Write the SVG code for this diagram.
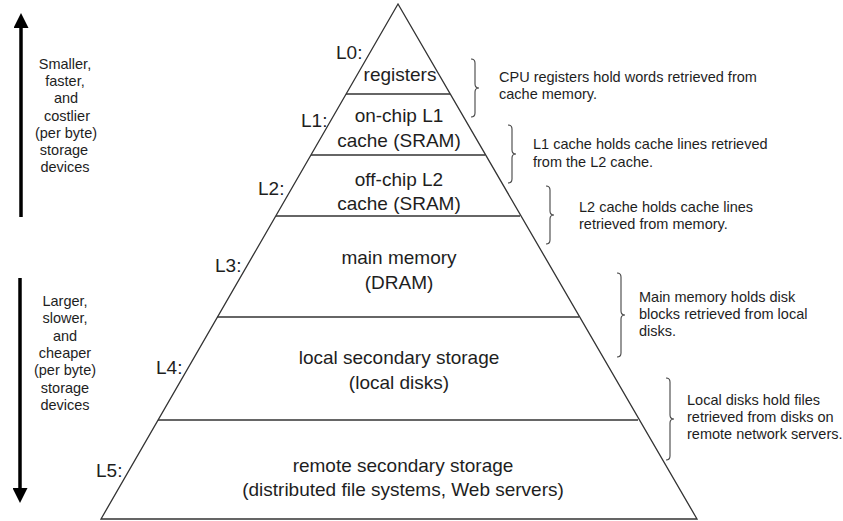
<svg xmlns="http://www.w3.org/2000/svg" width="843" height="521" viewBox="0 0 843 521">
<defs>
<style>
.lvl{font-family:"Liberation Sans",Arial,sans-serif;font-size:19px;fill:#1e1e1e;text-anchor:middle}
.lab{font-family:"Liberation Sans",Arial,sans-serif;font-size:19px;fill:#1e1e1e}
.note{font-family:"Liberation Sans",Arial,sans-serif;font-size:14.5px;fill:#1e1e1e}
.side{font-family:"Liberation Sans",Arial,sans-serif;font-size:14.5px;fill:#1e1e1e;text-anchor:middle}
.edge{fill:none;stroke:#333;stroke-width:1.3}
.brace{fill:none;stroke:#444;stroke-width:1.1}
.arrow{stroke:#000;stroke-width:3.5;fill:none}
</style>
<marker id="head" viewBox="0 0 15 15" markerWidth="15" markerHeight="15" refX="0" refY="7.5" orient="auto" markerUnits="userSpaceOnUse">
<path d="M0,0 L15,7.5 L0,15 z" fill="#000"/>
</marker>
</defs>
<rect width="843" height="521" fill="#fff"/>

<g id="pyramid">
<polygon class="edge" points="398,4 101,519 697,519"/>
</g>

<g id="L0">
<line class="edge" x1="346" y1="94" x2="450" y2="94"/>
<text class="lab" x="336" y="59">L0:</text>
<text class="lvl" x="400" y="81">registers</text>
</g>
<g id="L1">
<line class="edge" x1="311" y1="155" x2="485" y2="155"/>
<text class="lab" x="301" y="127">L1:</text>
<text class="lvl" x="399" y="122">on-chip L1</text>
<text class="lvl" x="399" y="147">cache (SRAM)</text>
</g>
<g id="L2">
<line class="edge" x1="276" y1="216" x2="520" y2="216"/>
<text class="lab" x="258" y="195">L2:</text>
<text class="lvl" x="399" y="186">off-chip L2</text>
<text class="lvl" x="399" y="210">cache (SRAM)</text>
</g>
<g id="L3">
<line class="edge" x1="217" y1="317" x2="579" y2="317"/>
<text class="lab" x="215" y="272">L3:</text>
<text class="lvl" x="399" y="264">main memory</text>
<text class="lvl" x="399" y="289">(DRAM)</text>
</g>
<g id="L4">
<line class="edge" x1="158" y1="420" x2="638" y2="420"/>
<text class="lab" x="156" y="374">L4:</text>
<text class="lvl" x="399" y="364">local secondary storage</text>
<text class="lvl" x="399" y="389">(local disks)</text>
</g>
<g id="L5">
<text class="lab" x="96" y="477">L5:</text>
<text class="lvl" x="403" y="472">remote secondary storage</text>
<text class="lvl" x="403" y="496">(distributed file systems, Web servers)</text>
</g>

<g id="note0">
<text class="note" x="499" y="82">CPU registers hold words retrieved from</text>
<text class="note" x="499" y="99">cache memory.</text>
</g>
<g id="note1">
<text class="note" x="533" y="149">L1 cache holds cache lines retrieved</text>
<text class="note" x="533" y="167">from the L2 cache.</text>
</g>
<g id="note2">
<text class="note" x="579" y="212">L2 cache holds cache lines</text>
<text class="note" x="579" y="229">retrieved from memory.</text>
</g>
<g id="note3">
<text class="note" x="639" y="302">Main memory holds disk</text>
<text class="note" x="639" y="319">blocks retrieved from local</text>
<text class="note" x="639" y="336">disks.</text>
</g>
<g id="note4">
<text class="note" x="687" y="405">Local disks hold files</text>
<text class="note" x="687" y="422">retrieved from disks on</text>
<text class="note" x="687" y="439">remote network servers.</text>
</g>

<g id="side-up">
<text class="side" x="65" y="69">Smaller,</text>
<text class="side" x="65" y="86">faster,</text>
<text class="side" x="66" y="103">and</text>
<text class="side" x="67" y="121">costlier</text>
<text class="side" x="66" y="138">(per byte)</text>
<text class="side" x="64" y="155">storage</text>
<text class="side" x="65" y="172">devices</text>
</g>
<g id="side-down">
<text class="side" x="65" y="306">Larger,</text>
<text class="side" x="65" y="323">slower,</text>
<text class="side" x="65" y="341">and</text>
<text class="side" x="65" y="358">cheaper</text>
<text class="side" x="65" y="375">(per byte)</text>
<text class="side" x="65" y="393">storage</text>
<text class="side" x="65" y="410">devices</text>
</g>

<g id="connectors">
<line class="arrow" x1="21" y1="217" x2="21" y2="28" marker-end="url(#head)"/>
<line class="arrow" x1="20" y1="278" x2="20" y2="488" marker-end="url(#head)"/>
<path class="brace" d="M471,59 q4,0 4,4 v21 q0,4 4,4 q-4,0 -4,4 v21 q0,4 -4,4"/>
<path class="brace" d="M508,125 q4,0 4,4 v21 q0,4 4,4 q-4,0 -4,4 v21 q0,4 -4,4"/>
<path class="brace" d="M546,186 q4,0 4,4 v21 q0,4 4,4 q-4,0 -4,4 v21 q0,4 -4,4"/>
<path class="brace" d="M617,273 q4,0 4,4 v34 q0,4 4,4 q-4,0 -4,4 v34 q0,4 -4,4"/>
<path class="brace" d="M666,378 q4,0 4,4 v33 q0,4 4,4 q-4,0 -4,4 v33 q0,4 -4,4"/>
</g>
</svg>
